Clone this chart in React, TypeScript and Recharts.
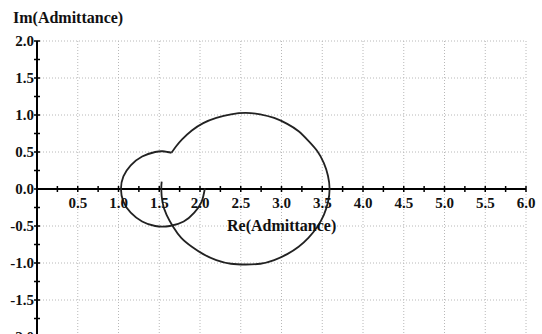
import React from 'react'
import { LineChart, Line, XAxis, YAxis, CartesianGrid, ReferenceLine, ReferenceDot } from 'recharts'

// small loop, traced from its right end clockwise up to the cusp
const smallLoopRe = [2.06, 2.02, 1.93, 1.80, 1.63, 1.45, 1.29, 1.15, 1.06, 1.03, 1.06, 1.15, 1.29, 1.45, 1.54, 1.60, 1.65]
const smallLoopIm = [0.01, -0.17, -0.32, -0.44, -0.50, -0.50, -0.44, -0.32, -0.17, 0.0, 0.17, 0.32, 0.44, 0.50, 0.51, 0.50, 0.49]

// big loop, from the cusp clockwise back to the axis near 1.5
const bigLoopRe = [1.65, 1.71, 1.78, 1.90, 2.04, 2.20, 2.38, 2.56, 2.74, 2.91, 3.07, 3.21, 3.33, 3.44, 3.52, 3.57, 3.59, 3.57, 3.52, 3.44, 3.33, 3.21, 3.07, 2.91, 2.74, 2.56, 2.38, 2.20, 2.04, 1.90, 1.77, 1.67, 1.59, 1.54, 1.525, 1.53]
const bigLoopIm = [0.49, 0.58, 0.67, 0.79, 0.89, 0.96, 1.01, 1.03, 1.01, 0.96, 0.88, 0.78, 0.65, 0.51, 0.35, 0.18, 0.0, -0.18, -0.35, -0.51, -0.66, -0.78, -0.88, -0.96, -1.01, -1.02, -1.01, -0.96, -0.88, -0.78, -0.66, -0.51, -0.35, -0.18, 0.0, 0.10]

const reTicks = [0.25, 0.5, 0.75, 1.0, 1.25, 1.5, 1.75, 2.0, 2.25, 2.5, 2.75, 3.0, 3.25, 3.5, 3.75, 4.0, 4.25, 4.5, 4.75, 5.0, 5.25, 5.5, 5.75, 6.0]
const imTicks = [-2.0, -1.75, -1.5, -1.25, -1.0, -0.75, -0.5, -0.25, 0.0, 0.25, 0.5, 0.75, 1.0, 1.25, 1.5, 1.75, 2.0]
const gridRe = [0.5, 1.0, 1.5, 2.0, 2.5, 3.0, 3.5, 4.0, 4.5, 5.0, 5.5, 6.0]
const gridIm = [-2.0, -1.5, -1.0, -0.5, 0.0, 0.5, 1.0, 1.5, 2.0]

const smallLoop = smallLoopRe.map((re, i) => ({ re, im: smallLoopIm[i] }))
const bigLoop = bigLoopRe.map((re, i) => ({ re, im: bigLoopIm[i] }))

const serif = '"Liberation Serif", "Times New Roman", serif'
const isMajor = (v: number) => Math.abs(v * 2 - Math.round(v * 2)) < 1e-6

function YTick(props: any) {
  const { x, y, payload } = props
  const v = payload.value as number
  return (
    <g>
      <line x1={x - 3} x2={x + 3} y1={y} y2={y} stroke="#000" strokeWidth={1.5} />
      {isMajor(v) && (
        <text x={x - 3} y={y + 5} textAnchor="end" fontFamily={serif} fontWeight="bold" fontSize={15} fill="#111">
          {v.toFixed(1)}
        </text>
      )}
    </g>
  )
}

function XTick(v: number) {
  return (props: any) => {
    const { cx, cy } = props
    return (
      <g>
        <line x1={cx} x2={cx} y1={cy - 3} y2={cy + 3} stroke="#000" strokeWidth={1.5} />
        {isMajor(v) && (
          <text x={cx} y={cy + 19} textAnchor="middle" fontFamily={serif} fontWeight="bold" fontSize={15} fill="#111">
            {v.toFixed(1)}
          </text>
        )}
      </g>
    )
  }
}

export default function App() {
  return (
    <div style={{ position: 'absolute', left: 0, top: 0, width: 542, height: 334, overflow: 'hidden', background: '#fff' }}>
      <div style={{ position: 'absolute', left: 13, top: 10, fontFamily: serif, fontWeight: 'bold', fontSize: 16, lineHeight: 1, color: '#111' }}>
        Im(Admittance)
      </div>
      <LineChart width={542} height={350} margin={{ top: 41, right: 16, left: 0, bottom: 13 }}>
        <CartesianGrid stroke="#b8b8b8" strokeDasharray="1 2" horizontalValues={gridIm} verticalValues={gridRe} />
        <XAxis type="number" dataKey="re" domain={[0, 6]} ticks={gridRe} hide allowDataOverflow />
        <YAxis
          type="number"
          dataKey="im"
          domain={[-2, 2]}
          ticks={imTicks}
          width={37}
          tickSize={0}
          tickMargin={0}
          tickLine={false}
          axisLine={{ stroke: '#000', strokeWidth: 2 }}
          tick={<YTick />}
          interval={0}
          allowDataOverflow
        />
        <ReferenceLine y={0} stroke="#000" strokeWidth={2} />
        {reTicks.map((v) => (
          <ReferenceDot key={v} x={v} y={0} r={0} shape={XTick(v)} />
        ))}
        <Line data={smallLoop} dataKey="im" type="natural" stroke="#222" strokeWidth={1.8} dot={false} isAnimationActive={false} />
        <Line data={bigLoop} dataKey="im" type="natural" stroke="#222" strokeWidth={1.8} dot={false} isAnimationActive={false} />
      </LineChart>
      <div style={{ position: 'absolute', left: 227, top: 218, fontFamily: serif, fontWeight: 'bold', fontSize: 16, lineHeight: 1, color: '#111' }}>
        Re(Admittance)
      </div>
    </div>
  )
}
